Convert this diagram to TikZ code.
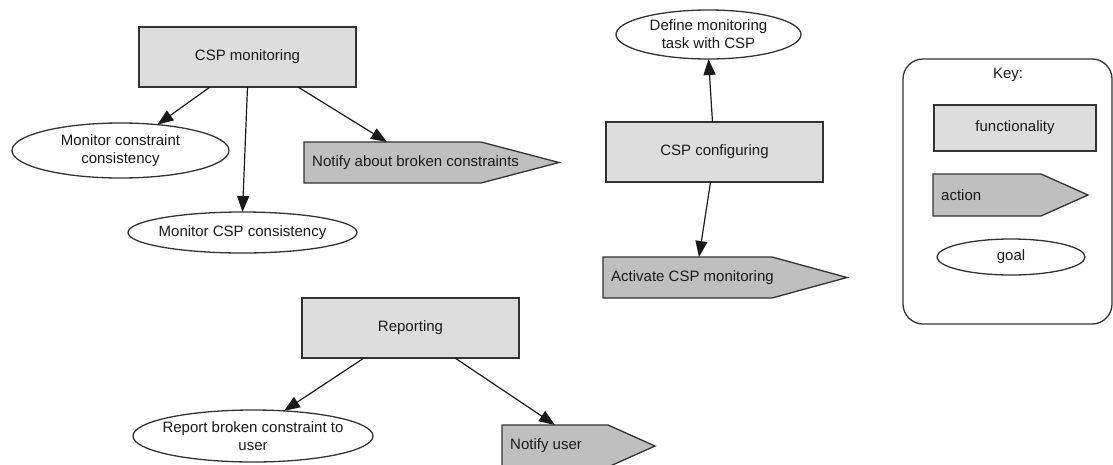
\documentclass[tikz,border=0pt]{standalone}
\usepackage{fontspec}
\setmainfont{Liberation Sans}
\usetikzlibrary{arrows.meta,shapes.geometric,backgrounds,calc}

\definecolor{funcfill}{HTML}{DDDDDD}
\definecolor{actfill}{HTML}{BFBFBF}
\definecolor{edgegray}{HTML}{333333}
\definecolor{ink}{HTML}{1A1A1A}

\tikzset{
  base/.style={draw=edgegray, line width=1.3pt, outer sep=0pt, text=ink,
    font=\fontsize{15}{18}\selectfont, align=center},
  func/.style={base, rectangle, fill=funcfill, inner sep=0pt},
  goal/.style={base, ellipse, fill=white, inner xsep=-40pt, inner ysep=-4pt},
  actbody/.style={rectangle, inner sep=0pt, outer sep=0pt},
  acttext/.style={anchor=west, inner sep=0pt, text=ink, font=\fontsize{15}{18}\selectfont},
  actline/.style={draw=edgegray, line width=1.3pt, fill=actfill, line join=miter},
  conn/.style={draw=ink, line width=1.2pt, -{Triangle[length=16pt,width=12pt]}},
  keybox/.style={draw=edgegray, line width=1.3pt, rounded corners=20pt},
}

% action node: #1 name, #2 centre of the body, #3 body width, #4 height,
% #5 length of the pointed end, #6 text (left aligned, may run over the point)
\newcommand\actionnode[6]{%
  \node[actbody, minimum width=#3, minimum height=#4] (#1) at (#2) {};
  \draw[actline] (#1.north west) -- (#1.north east) -- ($(#1.east)+(#5,0)$)
    -- (#1.south east) -- (#1.south west) -- cycle;
  \node[acttext] (#1-text) at ([xshift=8pt]#1.west) {#6};}

\begin{document}
\begin{tikzpicture}[x=1pt, y=-1pt]
  \useasboundingbox (0,0) rectangle (1113,464);

  % CSP monitoring group
  \node[func, minimum width=217pt, minimum height=60pt] (cspmon) at (247.5,57) {CSP monitoring};
  \node[goal, minimum width=217pt, minimum height=55pt] (mcc) at (120.5,150.5)
    {Monitor constraint\\consistency};
  \node[goal, minimum width=229pt, minimum height=41pt] (mcspc) at (242.5,232.5)
    {Monitor CSP consistency};
  \actionnode{notify}{392.5,162.5}{177pt}{41pt}{78}{Notify about broken constraints}

  % CSP configuring group
  \node[func, minimum width=217pt, minimum height=60pt] (cspconf) at (714.5,152) {CSP configuring};
  \node[goal, minimum width=185pt, minimum height=49pt] (define) at (708.5,34.5)
    {Define monitoring\\task with CSP};
  \actionnode{activate}{687.5,277.5}{169pt}{41pt}{75}{Activate CSP monitoring}

  % Reporting group
  \node[func, minimum width=217pt, minimum height=60pt] (reporting) at (410.5,328) {Reporting};
  \node[goal, minimum width=240pt, minimum height=52pt] (report) at (253,436)
    {Report broken constraint to\\user};
  \actionnode{notifyuser}{555,446}{106pt}{42pt}{47}{Notify user}

  % connectors
  \draw[conn] ([xshift=71pt]cspmon.south west) -- (mcc.35);
  \draw[conn] (cspmon.south) -- (mcspc.north);
  \draw[conn] ([xshift=159pt]cspmon.south west) -- ([xshift=83pt]notify.north west);
  \draw[conn] ([xshift=-2pt]cspconf.north) -- (define.south);
  \draw[conn] ([xshift=-4pt]cspconf.south) -- ([xshift=96pt]activate.north west);
  \draw[conn] ([xshift=62pt]reporting.south west) -- (report.39);
  \draw[conn] ([xshift=153pt]reporting.south west) -- ([xshift=53pt]notifyuser.north west);

  % key
  \node[keybox, minimum width=209pt, minimum height=265pt, inner sep=0pt] (key) at (1007.5,191.5) {};
  \node[text=ink, font=\fontsize{15}{18}\selectfont, inner sep=0pt] (keytitle) at (1008,75) {Key:};
  \node[func, minimum width=162pt, minimum height=46pt] (kfunc) at (1015,128) {functionality};
  \actionnode{kact}{987,195}{108pt}{42pt}{47}{action}
  \node[goal, minimum width=148pt, minimum height=36pt] (kgoal) at (1011,257) {goal};
\end{tikzpicture}
\end{document}
